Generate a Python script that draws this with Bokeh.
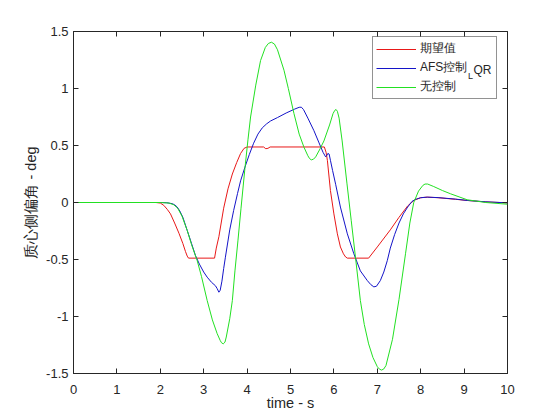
from bokeh.plotting import figure
from bokeh.models import (Range1d, LinearAxis, FixedTicker, Legend, LegendItem,
                          Label, CustomJSTickFormatter)
from bokeh.embed import file_html
from bokeh.resources import INLINE

# ---------------- data ----------------
x_ticks = [0, 1, 2, 3, 4, 5, 6, 7, 8, 9, 10]
y_ticks = [-1.5, -1, -0.5, 0, 0.5, 1, 1.5]

# 期望值 (desired)
t_ref = [0, 1.9, 2.0, 2.08, 2.16, 2.235, 2.33, 2.43, 2.52, 2.58, 2.62, 2.65,
         3.25, 3.29, 3.35, 3.46, 3.56, 3.66, 3.76, 3.85, 3.93, 4.0,
         4.38, 4.43, 4.48, 4.53, 5.78, 5.82, 5.85, 5.92, 6.0, 6.08, 6.15,
         6.22, 6.27, 6.31, 6.8, 7.0, 7.3, 7.5, 7.7, 7.85, 8.0, 8.15, 8.4,
         8.8, 9.07, 9.5, 10.0]
v_ref = [0, 0, -0.005, -0.025, -0.06, -0.10, -0.18, -0.27, -0.36, -0.43, -0.47, -0.488,
         -0.488, -0.40, -0.30, -0.05, 0.12, 0.25, 0.35, 0.43, 0.475, 0.487,
         0.487, 0.472, 0.475, 0.487, 0.487, 0.44, 0.37, 0.105, -0.10, -0.275, -0.39,
         -0.45, -0.478, -0.488, -0.488, -0.39, -0.24, -0.13, -0.03, 0.02, 0.042, 0.047, 0.042,
         0.028, 0.018, 0.005, -0.003]

# AFS控制_LQR
t_afs = [0, 2.0, 2.15, 2.27, 2.33, 2.39, 2.45, 2.52, 2.62, 2.72, 2.81, 2.9, 3.0,
         3.08, 3.18, 3.27, 3.31, 3.35, 3.38, 3.42, 3.46, 3.5, 3.6, 3.69, 3.78,
         3.85, 3.95, 4.05, 4.15, 4.25, 4.35, 4.45, 4.54, 4.7, 4.9, 5.1, 5.2,
         5.25, 5.3, 5.4, 5.54, 5.65, 5.75, 5.81, 5.84, 5.86, 5.89, 5.92, 5.97,
         6.04, 6.15, 6.31, 6.46, 6.61, 6.77, 6.85, 6.92, 6.98, 7.07, 7.15, 7.23,
         7.3, 7.4, 7.5, 7.6, 7.7, 7.8, 7.9, 8.0, 8.15, 8.4, 8.8, 9.07, 9.5, 10.0]
v_afs = [0, 0, -0.002, -0.01, -0.02, -0.04, -0.075, -0.13, -0.245, -0.36, -0.465, -0.54, -0.61,
         -0.655, -0.70, -0.73, -0.755, -0.787, -0.77, -0.69, -0.58, -0.48, -0.24, -0.07, 0.08,
         0.19, 0.31, 0.42, 0.52, 0.60, 0.655, 0.69, 0.715, 0.745, 0.785, 0.82, 0.835,
         0.836, 0.815, 0.74, 0.63, 0.53, 0.44, 0.40, 0.415, 0.43, 0.425, 0.37, 0.28,
         0.16, -0.04, -0.275, -0.45, -0.60, -0.685, -0.72, -0.74, -0.735, -0.685, -0.61, -0.51,
         -0.40, -0.28, -0.18, -0.10, -0.04, 0.01, 0.03, 0.042, 0.047, 0.043, 0.03, 0.018, 0.006, -0.003]

# 无控制 (no control)
t_nc = [0, 2.0, 2.2, 2.31, 2.4, 2.5, 2.62, 2.72, 2.85, 2.95, 3.08, 3.2, 3.31, 3.38,
        3.41, 3.45, 3.49, 3.52, 3.6, 3.66, 3.72, 3.79, 3.86, 3.95, 4.02, 4.08, 4.2,
        4.31, 4.42, 4.49, 4.56, 4.63, 4.7, 4.85, 4.95, 5.08, 5.2, 5.31, 5.4, 5.44,
        5.48, 5.53, 5.58, 5.68, 5.77, 5.9, 5.98, 6.02, 6.05, 6.08, 6.12, 6.19, 6.3,
        6.4, 6.5, 6.61, 6.7, 6.8, 6.9, 7.0, 7.05, 7.1, 7.15, 7.2, 7.35, 7.5, 7.65,
        7.75, 7.84, 7.95, 8.05, 8.1, 8.16, 8.3, 8.5, 8.69, 9.07, 9.5, 10.0]
v_nc = [0, 0, -0.005, -0.02, -0.05, -0.12, -0.245, -0.37, -0.51, -0.65, -0.86, -1.03, -1.15, -1.21,
        -1.23, -1.24, -1.225, -1.18, -1.02, -0.86, -0.6, -0.33, -0.05, 0.3, 0.55, 0.75, 1.03,
        1.245, 1.36, 1.395, 1.406, 1.39, 1.34, 1.16, 1.0, 0.78, 0.6, 0.485, 0.41, 0.385,
        0.374, 0.38, 0.40, 0.47, 0.54, 0.68, 0.78, 0.808, 0.816, 0.80, 0.74, 0.54, 0.17,
        -0.16, -0.49, -0.86, -1.07, -1.24, -1.36, -1.44, -1.462, -1.47, -1.46, -1.43, -1.2, -0.85, -0.45,
        -0.18, 0.0, 0.1, 0.15, 0.162, 0.162, 0.14, 0.105, 0.076, 0.024, 0.0, -0.015]

labels = ["期望值", "AFS控制", "无控制"]
colors = ["#e81818", "#1414c8", "#22e022"]

# ---------------- figure ----------------
AX = "#262626"
p = figure(width=560, height=420, output_backend="svg", toolbar_location=None,
           x_range=Range1d(0, 10), y_range=Range1d(-1.5, 1.5),
           min_border_left=73, min_border_right=53, min_border_top=31,
           min_border_bottom=47)
p.xgrid.visible = False
p.ygrid.visible = False
p.outline_line_color = AX
p.background_fill_color = "white"
p.border_fill_color = "white"

plain_fmt = CustomJSTickFormatter(code="return tick.toString()")
for ax, ticks in [(p.xaxis[0], x_ticks), (p.yaxis[0], y_ticks)]:
    ax.ticker = FixedTicker(ticks=ticks)
    ax.formatter = plain_fmt
    ax.major_tick_in = 5
    ax.major_tick_out = 0
    ax.minor_tick_line_color = None
    ax.axis_line_color = AX
    ax.major_tick_line_color = AX
    ax.major_label_text_font = "Liberation Sans"
    ax.major_label_text_font_size = "13px"
    ax.major_label_text_color = AX
    ax.axis_label_text_font = "Liberation Sans"
    ax.axis_label_text_font_size = "14.5px"
    ax.axis_label_text_font_style = "normal"
    ax.axis_label_text_color = AX

p.xaxis.major_label_standoff = 11
p.xaxis.axis_label_standoff = -2
p.yaxis.major_label_standoff = 5
p.yaxis.axis_label_standoff = 4
p.xaxis.axis_label = "time - s"
p.yaxis.axis_label = "质心侧偏角 - deg"

for loc, ticks in [("right", y_ticks), ("above", x_ticks)]:
    ax = LinearAxis(ticker=FixedTicker(ticks=ticks),
                    formatter=CustomJSTickFormatter(code="return ''"),
                    major_tick_in=5, major_tick_out=0,
                    minor_tick_line_color=None, axis_line_color=None,
                    major_tick_line_color=AX, major_label_standoff=0)
    p.add_layout(ax, loc)

r_ref = p.line(t_ref, v_ref, line_color=colors[0], line_width=1)
r_afs = p.line(t_afs, v_afs, line_color=colors[1], line_width=1)
r_nc = p.line(t_nc, v_nc, line_color=colors[2], line_width=1)

legend = Legend(items=[LegendItem(label=labels[0], renderers=[r_ref]),
                       LegendItem(label=labels[1], renderers=[r_afs]),
                       LegendItem(label=labels[2], renderers=[r_nc])],
                location=(299, 274), margin=0, padding=3, spacing=2,
                glyph_width=40, glyph_height=16, label_height=16, label_width=73,
                label_standoff=4, label_text_font="Liberation Sans",
                label_text_font_size="12px", label_text_color=AX,
                border_line_color=AX, border_line_width=1,
                background_fill_alpha=0)
p.add_layout(legend)

# subscript "L" and "QR" after "AFS控制" (TeX-style AFS控制_LQR)
p.add_layout(Label(x=394.5, y=293, x_units="screen", y_units="screen", text="L",
                   text_font="Liberation Sans", text_font_size="9px",
                   text_color=AX, level="overlay"))
p.add_layout(Label(x=400, y=297, x_units="screen", y_units="screen", text="QR",
                   text_font="Liberation Sans", text_font_size="12px",
                   text_color=AX, level="overlay"))

open("out.html", "w").write(file_html(p, INLINE))
